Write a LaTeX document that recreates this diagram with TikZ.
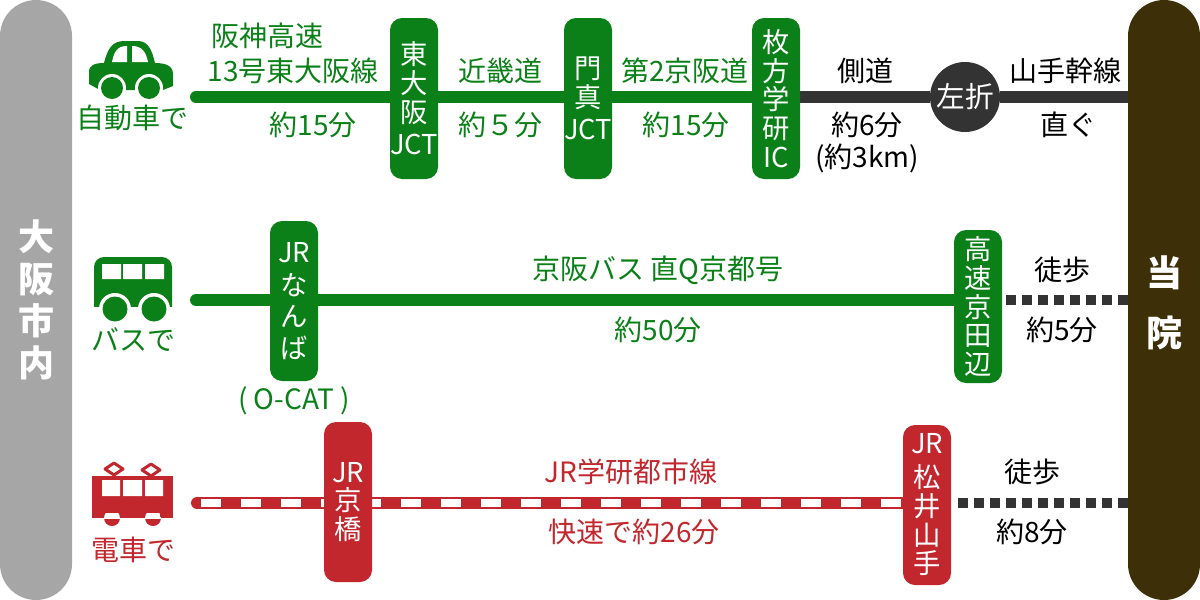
\documentclass[tikz,border=0pt]{standalone}
\usepackage{fontspec}
\setmainfont{Noto Sans CJK JP}
\usetikzlibrary{backgrounds}
\definecolor{carGreen}{RGB}{12,128,24}
\definecolor{railRed}{RGB}{193,39,45}
\definecolor{sideGray}{RGB}{166,166,166}
\definecolor{sideBrown}{RGB}{61,47,8}
\definecolor{roadDark}{RGB}{51,51,51}
\tikzset{
  lbl/.style={inner sep=0pt,font=\fontsize{21}{25}\selectfont},
  carlbl/.style={lbl,text=carGreen},
  raillbl/.style={lbl,text=railRed},
  stop/.style={rectangle,rounded corners=9pt,minimum width=36pt,inner sep=0pt,text=white,align=center,
    font=\fontsize{20.5}{21.5}\selectfont},
  sidebar/.style={rectangle,rounded corners=27pt,minimum width=54pt,minimum height=450pt,inner sep=0pt,
    text=white,align=center,font=\fontsize{27}{31.5}\selectfont\bfseries},
  route/.style={line width=9pt},
  walk/.style={line width=7.5pt,draw=roadDark,dash pattern=on 7.5pt off 4.5pt}
}
\begin{document}
\begin{tikzpicture}[x=0.75pt,y=-0.75pt]
  \useasboundingbox (0,0) rectangle (1200,600);

  \node [sidebar,fill=sideGray] (osaka) at (36,300) {大\\阪\\市\\内};
  \node [sidebar,fill=sideBrown] (touin) at (1164,300) {\\[-4pt]当\\[14pt]院};

  \coordinate (car_start) at (196,97);
  \coordinate (bus_start) at (196,300);
  \coordinate (rail_start) at (197,503);
  \coordinate (bus_walk) at (1006,300);
  \coordinate (rail_walk) at (958,503);

  \node [stop,fill=carGreen,minimum height=120.75pt] (higashiosaka) at (414,98.5) {東\\大\\阪\\[3pt]JCT};
  \node [stop,fill=carGreen,minimum height=120.75pt] (kadoma) at (588,98.5) {門\\真\\[3pt]JCT};
  \node [stop,fill=carGreen,minimum height=120.75pt] (hirakata) at (776,98.5) {枚\\方\\学\\研\\IC};
  \node [circle,fill=roadDark,minimum size=52.5pt,inner sep=0pt,text=white,font=\fontsize{21.5}{25}\selectfont] (turn) at (965,97) {左折};

  \node [stop,fill=carGreen,minimum height=120pt] (namba) at (294,301) {JR\\[3pt]な\\[2pt]ん\\[2pt]ば};
  \node [stop,fill=carGreen,minimum height=114.75pt] (tanabe) at (978,306.5) {高\\速\\京\\田\\辺};

  \node [stop,fill=railRed,minimum height=120pt] (kyobashi) at (348,502) {JR\\京\\橋};
  \node [stop,fill=railRed,minimum height=120pt] (matsui) at (927,505) {JR\\[4pt]松\\井\\山\\手};

  \begin{scope}[on background layer]
    \draw [route,draw=carGreen,line cap=round] (car_start) -- (car_start -| higashiosaka) -- (car_start -| kadoma);
    \draw [route,draw=carGreen] (car_start -| kadoma) -- (car_start -| hirakata);
    \draw [route,draw=roadDark] (car_start -| hirakata) -- (turn) -- (car_start -| touin.west);
    \draw [route,draw=carGreen,line cap=round] (bus_start) -- (bus_start -| namba) -- (bus_start -| tanabe);
    \draw [route,draw=railRed,line cap=round] (rail_start) -- (rail_start -| kyobashi) -- (rail_start -| matsui);
    \draw [line width=6pt,draw=white,dash pattern=on 15pt off 15pt] (201,503) -- (rail_start -| matsui.west);
  \end{scope}
  \draw [walk] (bus_walk) -- (bus_walk -| touin.west);
  \draw [walk] (rail_walk) -- (rail_walk -| touin.west);

  % car
  \fill [carGreen] (89,72) .. controls (89,65) and (95,63) .. (104,63)
    .. controls (108,48) and (112,41) .. (125,41) -- (138,41)
    .. controls (148,41) and (152,50) .. (155,63)
    .. controls (166,63) and (173,66) .. (173,74) -- (173,86) -- (163,90) -- (100,90) -- (89,84) -- cycle;
  \fill [white] (112,62) .. controls (114,52) and (117,46) .. (127,46) -- (127,62) -- cycle;
  \fill [white] (132,46) .. controls (142,46) and (146,52) .. (148,62) -- (132,62) -- cycle;
  \fill [white] (112,88) circle [radius=14] (149,88) circle [radius=14];
  \fill [carGreen] (112,88) circle [radius=11] (149,88) circle [radius=11];

  % bus
  \fill [carGreen,rounded corners=7.5pt] (94,307) -- (94,257) -- (172,257) -- (172,307);
  \fill [carGreen] (94,290) rectangle (172,307);
  \fill [white] (102,264) rectangle (121,279) (123,264) rectangle (142,279) (145,264) rectangle (164,279);
  \fill [white] (115,309) circle [radius=16] (154,309) circle [radius=16];
  \fill [white] (90,307) rectangle (176,325);
  \fill [carGreen] (115,309) circle [radius=12.5] (154,309) circle [radius=12.5];

  % train
  \fill [railRed] (92,476) rectangle (173,518);
  \fill [white] (102,480) rectangle (120,496) (123,480) rectangle (142,496) (145,480) rectangle (163,496);
  \foreach \wx in {112,153} {
    \fill [railRed] (\wx,518) circle [radius=8];
    \begin{scope}
      \clip (\wx,518) circle [radius=8];
      \fill [white] (\wx-8,513) rectangle (\wx+8,518.5);
    \end{scope}
  }
  \draw [railRed,line width=2.25pt,line join=round,fill=white] (114,463) -- (123,469) -- (114,475) -- (105,469) -- cycle;
  \draw [railRed,line width=2.25pt,line join=round,fill=white] (151,464) -- (160,470) -- (151,476) -- (142,470) -- cycle;

  \node [carlbl] (car_top) at (267,36) {阪神高速};
  \node [carlbl] (car_line) at (293,71) {13号東大阪線};
  \node [carlbl] (car_time) at (313,125) {約15分};
  \node [carlbl] (car_name) at (132,118) {自動車で};
  \node [carlbl] (kinki) at (500,71) {近畿道};
  \node [carlbl] (kinki_time) at (500,125) {約５分};
  \node [carlbl] (daini) at (685,71) {第2京阪道};
  \node [carlbl] (daini_time) at (686,125) {約15分};
  \node [lbl] (side) at (865,71) {側道};
  \node [lbl] (side_time) at (867,125) {約6分};
  \node [lbl] (side_km) at (867,158) {(約3km)};
  \node [lbl] (yamate) at (1065,71) {山手幹線};
  \node [lbl] (yamate_go) at (1068,125) {直ぐ};

  \node [carlbl] (bus_name) at (133,340) {バスで};
  \node [carlbl] (ocat) at (294,401) {( O-CAT )};
  \node [carlbl] (bus_line) at (658,270) {京阪バス 直Q京都号};
  \node [carlbl] (bus_time) at (658,330) {約50分};
  \node [lbl] (bus_foot) at (1062,270) {徒歩};
  \node [lbl] (bus_foot_time) at (1062,330) {約5分};

  \node [raillbl] (rail_name) at (133,550) {電車で};
  \node [raillbl] (rail_line) at (631,472) {JR学研都市線};
  \node [raillbl] (rail_time) at (634,532) {快速で約26分};
  \node [lbl] (rail_foot) at (1032,472) {徒歩};
  \node [lbl] (rail_foot_time) at (1032,532) {約8分};
\end{tikzpicture}
\end{document}
